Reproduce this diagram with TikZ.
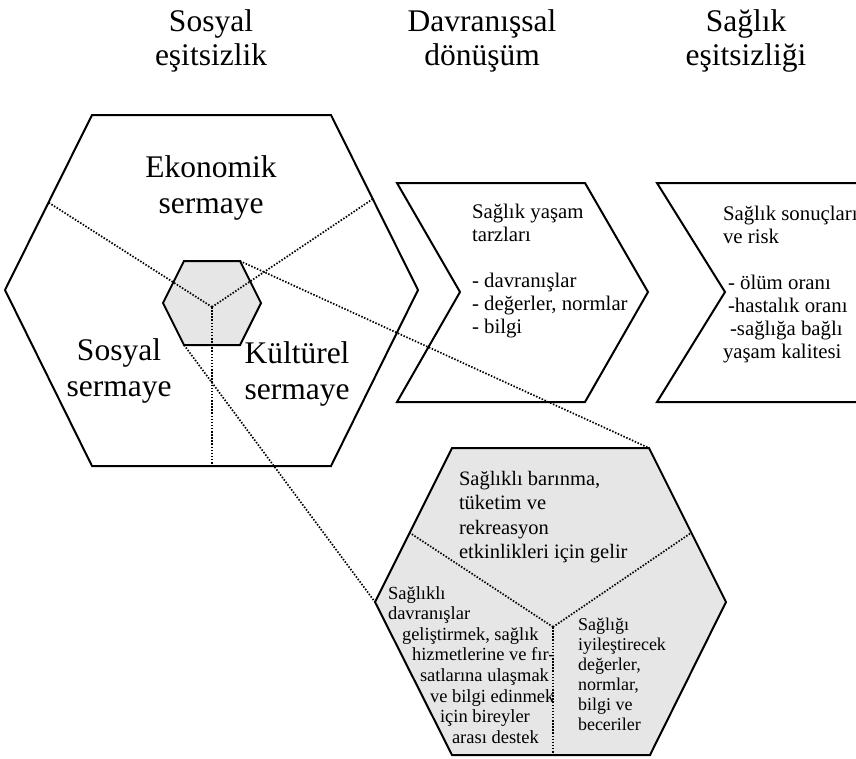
\documentclass[tikz,border=0pt]{standalone}
\usepackage{fontspec}
\setmainfont{Liberation Serif}
\usetikzlibrary{calc}
\definecolor{hexgray}{RGB}{230,230,230}
\newcommand\fTitle{\fontsize{31.5}{34}\selectfont}
\newcommand\fCap{\fontsize{31.5}{36}\selectfont}
\newcommand\fChev{\fontsize{20.8}{23}\selectfont}
\newcommand\fLowTop{\fontsize{20.5}{24.5}\selectfont}
\newcommand\fLowL{\fontsize{18.5}{20.6}\selectfont}
\newcommand\fLowR{\fontsize{18}{20}\selectfont}
\begin{document}
\begin{tikzpicture}[x=1pt,y=-1pt,
  outline/.style={draw=black,line width=2pt,line join=miter},
  dots/.style={draw=black,line width=1.7pt,dash pattern=on 1.5pt off 1.6pt},
  lbl/.style={inner sep=0pt,outer sep=0pt,text=black},
]
\useasboundingbox (0,0) rectangle (856,758);

% big hexagon
\coordinate (A1) at (92,115);
\coordinate (A2) at (331,115);
\coordinate (A3) at (418,290);
\coordinate (A4) at (331,466);
\coordinate (A5) at (92,466);
\coordinate (A6) at (5,290);
\coordinate (AL) at ($(A6)!0.5!(A1)$);
\coordinate (AR) at ($(A2)!0.48!(A3)$);
\coordinate (AB) at (212,466);

% small hexagon
\coordinate (B1) at (184,261);
\coordinate (B2) at (240,261);
\coordinate (B3) at (261,303);
\coordinate (B4) at (240,345);
\coordinate (B5) at (184,345);
\coordinate (B6) at (163,303);
\coordinate (Bc) at (212,307);

% chevron 1
\coordinate (C1) at (397,183);
\coordinate (C2) at (585,183);
\coordinate (C3) at (648,292);
\coordinate (C4) at (585,402);
\coordinate (C5) at (397,402);
\coordinate (C6) at (460,292);

% chevron 2
\coordinate (D0) at (860,183);
\coordinate (D1) at (657,183);
\coordinate (D2) at (725,292);
\coordinate (D3) at (657,402);
\coordinate (D4) at (860,402);

% lower hexagon
\coordinate (E1) at (452,448);
\coordinate (E2) at (649,448);
\coordinate (E3) at (726,602);
\coordinate (E4) at (650,755);
\coordinate (E5) at (452,755);
\coordinate (E6) at (375,602);
\coordinate (Ec) at (553,627);
\coordinate (EL) at ($(E6)!0.45!(E1)$);
\coordinate (ER) at ($(E2)!0.55!(E3)$);
\coordinate (EB) at (553,755);

\draw[outline] (A1)--(A2)--(A3)--(A4)--(A5)--(A6)--cycle;
\draw[outline] (C1)--(C2)--(C3)--(C4)--(C5)--(C6)--cycle;
\draw[outline] (D0)--(D1)--(D2)--(D3)--(D4);

\draw[outline,fill=hexgray] (B1)--(B2)--(B3)--(B4)--(B5)--(B6)--cycle;
\draw[dots] (Bc)--(AL);
\draw[dots] (Bc)--(AR);
\draw[dots] (Bc)--(AB);

\draw[dots] (B2)--(E2);
\draw[dots] (B5)--(E6);

\draw[outline,fill=hexgray] (E1)--(E2)--(E3)--(E4)--(E5)--(E6)--cycle;
\draw[dots] (Ec)--(EL);
\draw[dots] (Ec)--(ER);
\draw[dots] (Ec)--(EB);

% titles
\node[lbl,anchor=base] (t1) at (211,31) {\fTitle\begin{tabular}[t]{@{}c@{}}Sosyal\\eşitsizlik\end{tabular}};
\node[lbl,anchor=base] (t2) at (482,31) {\fTitle\begin{tabular}[t]{@{}c@{}}Davranışsal\\dönüşüm\end{tabular}};
\node[lbl,anchor=base] (t3) at (746,31) {\fTitle\begin{tabular}[t]{@{}c@{}}Sağlık\\eşitsizliği\end{tabular}};

% big hexagon labels
\node[lbl,anchor=base] (ek) at (211,177) {\fCap\begin{tabular}[t]{@{}c@{}}Ekonomik\\sermaye\end{tabular}};
\node[lbl,anchor=base] (so) at (119,360) {\fCap\begin{tabular}[t]{@{}c@{}}Sosyal\\sermaye\end{tabular}};
\node[lbl,anchor=base] (ku) at (297,363) {\fCap\begin{tabular}[t]{@{}c@{}}Kültürel\\sermaye\end{tabular}};

% chevron texts
\node[lbl,anchor=base west] (ch1) at (472,218) {\fChev\begin{tabular}[t]{@{}l@{}}Sağlık yaşam\\tarzları\\ \\- davranışlar\\- değerler, normlar\\- bilgi\end{tabular}};
\node[lbl,anchor=base west] (ch2) at (723,220) {\fChev\begin{tabular}[t]{@{}l@{}}Sağlık sonuçları\\ve risk\\ \\\hspace*{5pt}- ölüm oranı\\\hspace*{5pt}-hastalık oranı\\\hspace*{7pt}-sağlığa bağlı\\yaşam kalitesi\end{tabular}};

% lower hexagon texts
\node[lbl,anchor=base west] (lt) at (459,485) {\fLowTop\begin{tabular}[t]{@{}l@{}}Sağlıklı barınma,\\tüketim ve\\rekreasyon\\etkinlikleri için gelir\end{tabular}};
\node[lbl,anchor=base west] (ll) at (388,599) {\fLowL\begin{tabular}[t]{@{}l@{}}Sağlıklı\\davranışlar\\\hspace*{14pt}geliştirmek, sağlık\\\hspace*{24pt}hizmetlerine ve fır-\\\hspace*{32pt}satlarına ulaşmak\\\hspace*{42pt}ve bilgi edinmek\\\hspace*{52pt}için bireyler\\\hspace*{64pt}arası destek\end{tabular}};
\node[lbl,anchor=base west] (lr) at (578,630) {\fLowR\begin{tabular}[t]{@{}l@{}}Sağlığı\\iyileştirecek\\değerler,\\normlar,\\bilgi ve\\beceriler\end{tabular}};
\end{tikzpicture}
\end{document}
